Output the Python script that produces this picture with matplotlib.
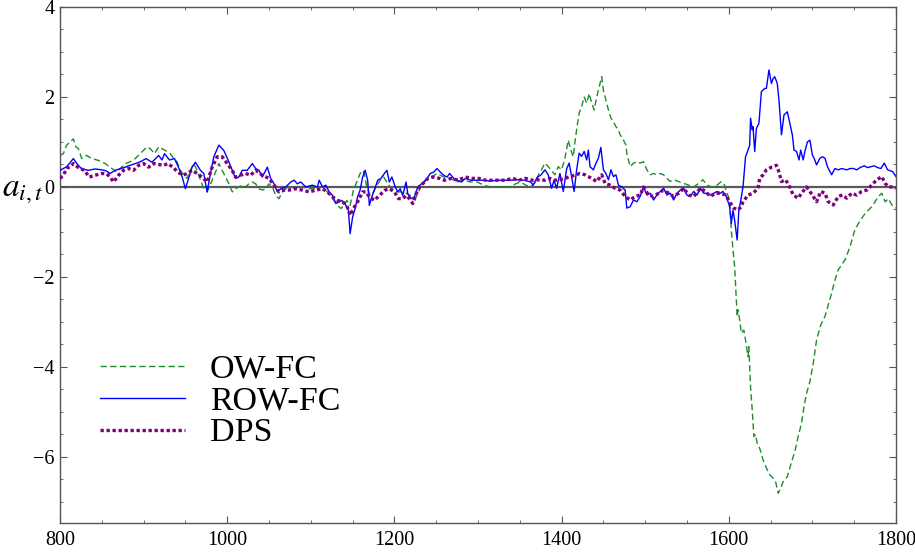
import matplotlib
matplotlib.use("Agg")
import matplotlib.pyplot as plt
from matplotlib.ticker import MultipleLocator

plt.rcParams['font.family'] = ['Liberation Serif', 'DejaVu Serif']
plt.rcParams['mathtext.fontset'] = 'stix'
plt.rcParams['axes.unicode_minus'] = True

# OW-FC (green dashed)
owfc_t = [800, 804, 808, 812, 816, 819, 822, 826, 832, 838, 846, 854, 862, 868, 872, 878, 884, 890,
          896, 900, 904, 908, 913, 918, 922, 926, 932, 936, 940, 944, 948, 952, 956, 960, 964, 968,
          972, 976, 982, 986, 990, 994, 998, 1002, 1006, 1010, 1014, 1018, 1022, 1026, 1030, 1034,
          1038, 1042, 1046, 1050, 1054, 1058, 1062, 1066, 1070, 1076, 1082, 1090, 1098, 1106, 1114,
          1120, 1126, 1132, 1136, 1140, 1143, 1147, 1151, 1155, 1159, 1163, 1167, 1171, 1175, 1179,
          1183, 1187, 1191, 1195, 1199, 1205, 1211, 1219, 1225, 1229, 1232, 1238, 1244, 1251, 1259,
          1267, 1275, 1283, 1291, 1299, 1307, 1315, 1323, 1331, 1339, 1345, 1351, 1357, 1363, 1369,
          1373, 1376, 1380, 1386, 1392, 1396, 1400, 1404, 1408, 1411, 1414, 1416, 1419, 1421, 1424,
          1427, 1430, 1433, 1436, 1439, 1442, 1445, 1448, 1450, 1453, 1456, 1459, 1462, 1465, 1468,
          1470, 1474, 1477, 1478, 1482, 1486, 1490, 1494, 1498, 1502, 1506, 1510, 1514, 1518, 1522,
          1526, 1530, 1534, 1540, 1546, 1552, 1558, 1564, 1569, 1574, 1580, 1586, 1591, 1595, 1597,
          1601, 1603, 1605, 1607, 1609, 1610, 1611, 1613, 1615, 1618, 1620, 1623, 1624, 1626, 1628,
          1630, 1632, 1634, 1637, 1641, 1645, 1649, 1653, 1656, 1659, 1662, 1665, 1670, 1674, 1679,
          1683, 1687, 1690, 1693, 1697, 1701, 1705, 1710, 1715, 1719, 1723, 1727, 1731, 1739, 1745,
          1750, 1755, 1763, 1771, 1779, 1783, 1787, 1791, 1795, 1800]
owfc_a = [0.70, 0.74, 0.93, 1.00, 1.07, 0.89, 0.85, 0.63, 0.70, 0.63, 0.59, 0.52, 0.41, 0.33, 0.41,
          0.52, 0.56, 0.63, 0.74, 0.81, 0.89, 0.85, 0.74, 0.89, 0.85, 0.81, 0.74, 0.63, 0.56, 0.37,
          0.26, 0.19, 0.37, 0.52, 0.37, 0.15, -0.04, -0.11, 0.15, 0.33, 0.52, 0.37, 0.22, 0.07, -0.11,
          -0.04, 0.00, 0.04, 0.00, 0.07, 0.11, 0.07, -0.04, -0.07, -0.04, 0.07, 0.00, -0.19, -0.26,
          -0.11, -0.04, 0.00, -0.04, 0.00, -0.04, -0.04, 0.00, -0.11, -0.26, -0.41, -0.48, -0.41,
          -0.30, -0.41, -0.07, 0.11, 0.30, 0.37, 0.00, -0.19, -0.11, 0.04, 0.15, 0.22, 0.11, 0.00,
          -0.07, -0.11, -0.11, -0.19, -0.26, -0.11, 0.04, 0.15, 0.22, 0.30, 0.22, 0.19, 0.11, 0.15,
          0.11, 0.11, 0.04, 0.00, 0.00, 0.00, 0.00, 0.07, 0.11, 0.04, 0.00, 0.11, 0.30, 0.38, 0.53,
          0.41, 0.27, 0.45, 0.38, 0.64, 1.04, 0.82, 0.67, 1.00, 1.41, 1.64, 1.79, 2.00, 1.86, 2.08,
          1.86, 1.71, 2.00, 2.23, 2.45, 2.15, 1.93, 1.71, 1.53, 1.45, 1.34, 1.27, 1.16, 1.04, 0.93,
          0.75, 0.45, 0.53, 0.56, 0.53, 0.56, 0.38, 0.27, 0.30, 0.27, 0.30, 0.27, 0.19, 0.12, 0.16,
          0.12, 0.08, 0.04, 0.00, 0.08, 0.16, 0.04, 0.00, 0.04, 0.12, 0.04, -0.10, -0.29, -0.96,
          -1.40, -1.77, -2.51, -2.88, -2.73, -2.96, -3.25, -3.18, -3.40, -3.77, -3.55, -4.44, -4.96,
          -5.55, -5.50, -5.70, -5.81, -6.07, -6.25, -6.40, -6.47, -6.55, -6.81, -6.70, -6.55, -6.44,
          -6.18, -5.88, -5.55, -5.25, -4.88, -4.59, -4.33, -3.92, -3.40, -3.07, -2.88, -2.62, -2.36,
          -2.07, -1.84, -1.62, -1.33, -1.00, -0.81, -0.59, -0.44, -0.21, -0.14, -0.33, -0.26, -0.40,
          -0.47]

# ROW-FC (blue solid)
rowfc_t = [800, 808, 816, 821, 826, 834, 842, 850, 855, 860, 866, 878, 887, 895, 903, 910, 918, 922,
           925, 931, 937, 945, 950, 954, 958, 962, 968, 972, 976, 980, 984, 990, 996, 1001, 1006,
           1010, 1014, 1018, 1024, 1030, 1034, 1038, 1042, 1048, 1052, 1056, 1060, 1064, 1070, 1076,
           1080, 1084, 1088, 1094, 1102, 1108, 1110, 1114, 1118, 1122, 1126, 1130, 1134, 1137, 1141,
           1145, 1147, 1150, 1153, 1156, 1159, 1162, 1165, 1168, 1170, 1173, 1176, 1180, 1184, 1188,
           1191, 1194, 1197, 1201, 1204, 1207, 1210, 1214, 1216, 1220, 1224, 1228, 1235, 1239, 1243,
           1247, 1251, 1255, 1259, 1263, 1266, 1271, 1275, 1280, 1285, 1291, 1299, 1307, 1315, 1323,
           1331, 1339, 1347, 1355, 1363, 1366, 1371, 1375, 1380, 1384, 1388, 1391, 1394, 1398, 1402,
           1406, 1409, 1412, 1415, 1418, 1421, 1424, 1427, 1430, 1432, 1434, 1438, 1441, 1444, 1447,
           1450, 1453, 1456, 1459, 1462, 1465, 1468, 1472, 1476, 1478, 1482, 1486, 1490, 1494, 1498,
           1502, 1506, 1510, 1514, 1518, 1522, 1526, 1530, 1534, 1538, 1542, 1546, 1550, 1554, 1558,
           1562, 1566, 1570, 1574, 1578, 1582, 1586, 1590, 1593, 1597, 1601, 1603, 1605, 1607, 1610,
           1612, 1614, 1617, 1620, 1623, 1625, 1626, 1628, 1629, 1631, 1633, 1636, 1639, 1643, 1645,
           1648, 1651, 1653, 1655, 1658, 1660, 1663, 1666, 1670, 1673, 1676, 1678, 1681, 1684, 1686,
           1689, 1691, 1694, 1697, 1700, 1702, 1705, 1709, 1712, 1715, 1718, 1720, 1723, 1727, 1731,
           1735, 1741, 1745, 1749, 1753, 1757, 1762, 1766, 1770, 1774, 1778, 1782, 1786, 1790, 1793,
           1796, 1800]
rowfc_a = [0.37, 0.45, 0.63, 0.50, 0.40, 0.37, 0.40, 0.38, 0.36, 0.30, 0.37, 0.44, 0.50, 0.55, 0.63,
           0.55, 0.70, 0.60, 0.74, 0.60, 0.63, 0.30, -0.04, 0.20, 0.44, 0.55, 0.37, 0.30, -0.11, 0.30,
           0.67, 0.93, 0.81, 0.60, 0.37, 0.19, 0.22, 0.37, 0.37, 0.52, 0.41, 0.37, 0.22, 0.44, 0.19,
           0.07, -0.11, -0.04, 0.00, 0.11, 0.15, 0.07, 0.11, 0.00, 0.04, 0.00, 0.15, 0.00, 0.04,
           -0.11, -0.19, -0.37, -0.33, -0.30, -0.37, -0.52, -1.04, -0.67, -0.48, -0.22, -0.07, 0.22,
           0.37, 0.15, -0.41, -0.22, -0.07, 0.15, 0.19, 0.30, 0.37, 0.11, 0.22, 0.00, -0.11, -0.04,
           -0.19, 0.11, -0.15, -0.26, -0.22, 0.00, 0.11, 0.19, 0.30, 0.33, 0.41, 0.33, 0.26, 0.22,
           0.30, 0.19, 0.15, 0.11, 0.19, 0.15, 0.15, 0.15, 0.13, 0.15, 0.15, 0.15, 0.16, 0.15, 0.11,
           0.04, 0.22, 0.26, 0.38, 0.27, -0.03, 0.15, -0.03, 0.30, -0.10, 0.40, 0.53, 0.23, -0.10,
           0.38, 0.75, 0.68, 0.79, 0.60, 0.82, 0.45, 0.38, 0.52, 0.64, 0.88, 0.38, 0.30, 0.16, 0.38,
           0.23, 0.27, 0.04, 0.00, -0.07, -0.47, -0.44, -0.29, -0.33, -0.21, 0.00, -0.18, -0.14,
           -0.29, -0.18, -0.10, -0.03, -0.18, -0.14, -0.29, -0.14, -0.07, -0.03, -0.18, -0.21, -0.10,
           -0.18, -0.03, -0.14, -0.14, -0.18, -0.14, -0.10, -0.14, -0.10, -0.21, -0.44, -0.81, -0.52,
           -0.74, -1.18, -0.52, -0.33, 0.00, 0.67, 0.82, 0.93, 1.53, 1.27, 1.34, 0.79, 1.30, 1.41,
           2.12, 2.19, 2.19, 2.60, 2.30, 2.41, 2.45, 2.30, 1.93, 1.16, 1.60, 1.67, 1.41, 1.16, 0.82,
           0.79, 0.60, 0.82, 0.60, 0.79, 1.00, 1.04, 0.71, 0.64, 0.49, 0.64, 0.67, 0.64, 0.45, 0.38,
           0.27, 0.41, 0.38, 0.41, 0.38, 0.41, 0.41, 0.38, 0.43, 0.47, 0.43, 0.45, 0.47, 0.43, 0.41,
           0.53, 0.38, 0.36, 0.34, 0.23]

# DPS (purple dotted)
dps_t = [800, 804, 808, 812, 816, 822, 829, 835, 842, 850, 856, 860, 864, 870, 876, 882, 888, 894,
         900, 906, 912, 918, 924, 929, 935, 941, 947, 952, 958, 964, 970, 976, 982, 988, 994, 1000,
         1006, 1010, 1016, 1022, 1028, 1034, 1042, 1050, 1056, 1062, 1068, 1074, 1082, 1090, 1098,
         1106, 1114, 1120, 1126, 1132, 1138, 1143, 1147, 1151, 1156, 1162, 1166, 1170, 1176, 1182,
         1189, 1194, 1200, 1205, 1210, 1214, 1218, 1222, 1226, 1230, 1236, 1240, 1246, 1254, 1260,
         1268, 1276, 1285, 1293, 1301, 1309, 1317, 1325, 1333, 1341, 1349, 1357, 1365, 1374, 1380,
         1386, 1392, 1398, 1404, 1410, 1416, 1422, 1428, 1436, 1442, 1448, 1452, 1458, 1464, 1470,
         1476, 1482, 1488, 1494, 1498, 1504, 1510, 1516, 1522, 1528, 1534, 1540, 1546, 1552, 1558,
         1566, 1572, 1578, 1584, 1590, 1596, 1602, 1606, 1611, 1615, 1617, 1623, 1629, 1635, 1637,
         1641, 1645, 1651, 1657, 1660, 1663, 1668, 1673, 1677, 1683, 1687, 1693, 1700, 1705, 1710,
         1715, 1719, 1725, 1731, 1736, 1741, 1747, 1753, 1759, 1765, 1771, 1777, 1783, 1787, 1791,
         1797, 1800]
dps_a = [0.19, 0.26, 0.41, 0.45, 0.52, 0.43, 0.37, 0.22, 0.26, 0.30, 0.29, 0.22, 0.11, 0.26, 0.37,
         0.41, 0.37, 0.48, 0.52, 0.44, 0.52, 0.50, 0.48, 0.52, 0.44, 0.33, 0.26, 0.30, 0.37, 0.30,
         0.22, 0.11, 0.44, 0.67, 0.67, 0.52, 0.37, 0.22, 0.26, 0.30, 0.26, 0.37, 0.26, 0.19, 0.04,
         -0.11, -0.07, -0.07, -0.04, -0.07, -0.11, -0.07, -0.04, -0.11, -0.22, -0.30, -0.33, -0.41,
         -0.63, -0.48, -0.33, -0.11, -0.11, -0.22, -0.30, -0.19, -0.07, -0.04, -0.11, -0.26, -0.26,
         -0.19, -0.26, -0.37, -0.15, 0.00, 0.11, 0.19, 0.22, 0.19, 0.15, 0.19, 0.15, 0.22, 0.19,
         0.19, 0.15, 0.15, 0.15, 0.15, 0.19, 0.15, 0.19, 0.15, 0.16, 0.15, 0.19, 0.15, 0.16, 0.19,
         0.23, 0.26, 0.30, 0.27, 0.19, 0.12, 0.27, 0.08, 0.04, -0.03, -0.07, -0.21, -0.29, -0.21,
         -0.18, 0.00, -0.18, -0.21, -0.14, -0.07, -0.14, -0.21, -0.14, -0.03, -0.18, -0.21, -0.03,
         -0.10, -0.21, -0.14, -0.14, -0.18, -0.36, -0.47, -0.51, -0.44, -0.33, -0.18, -0.14, -0.03,
         0.19, 0.27, 0.38, 0.44, 0.48, 0.33, 0.12, 0.16, 0.00, -0.18, -0.25, -0.14, 0.00, -0.18,
         -0.33, -0.10, -0.14, -0.33, -0.40, -0.21, -0.18, -0.25, -0.14, -0.18, -0.10, -0.07, 0.04,
         0.16, 0.23, 0.08, 0.00, 0.00, -0.03]

fig = plt.figure(figsize=(9.15, 5.52), dpi=100)
ax = fig.add_axes([60 / 915, 29 / 552, 836 / 915, 516 / 552])

ax.axhline(0, color='#5a5a5a', lw=1.6, zorder=1)
ax.plot(owfc_t, owfc_a, color='#1e8c28', lw=1.0, dashes=(4.5, 2.5), label='OW-FC', zorder=2)
ax.plot(rowfc_t, rowfc_a, color='#0000ff', lw=1.0, label='ROW-FC', zorder=3)
ax.plot(dps_t, dps_a, color='#800080', lw=2.4, dashes=(1.0, 0.8), label='DPS', zorder=4)

ax.set_xlim(800, 1800)
ax.set_ylim(-7.47, 4)
ax.xaxis.set_major_locator(MultipleLocator(200))
ax.xaxis.set_minor_locator(MultipleLocator(50))
ax.yaxis.set_major_locator(MultipleLocator(2))
ax.yaxis.set_minor_locator(MultipleLocator(0.5))
ax.tick_params(which='both', direction='in', top=True, right=True, color='#555555')
ax.tick_params(which='major', length=5, width=0.8, labelsize=14.5, pad=4)
ax.tick_params(which='minor', length=2.5, width=0.6)
ax.tick_params(axis='x', pad=6)
ax.tick_params(top=True, labeltop=False, right=True, labelright=False)
for s in ax.spines.values():
    s.set_color('#555555')
    s.set_linewidth(1.0)

ax.annotate(r'$a_{i,t}$', xy=(-0.02, -0.2), xycoords=('axes fraction', 'data'),
            ha='right', va='baseline', fontsize=24, annotation_clip=False)

leg = ax.legend(loc='center left', bbox_to_anchor=(0.048, 0.236), frameon=False,
                fontsize=24.5, handlelength=2.5, handletextpad=0.72, labelspacing=0.03,
                borderpad=0, borderaxespad=0)

fig.savefig('out.png', dpi=100)
